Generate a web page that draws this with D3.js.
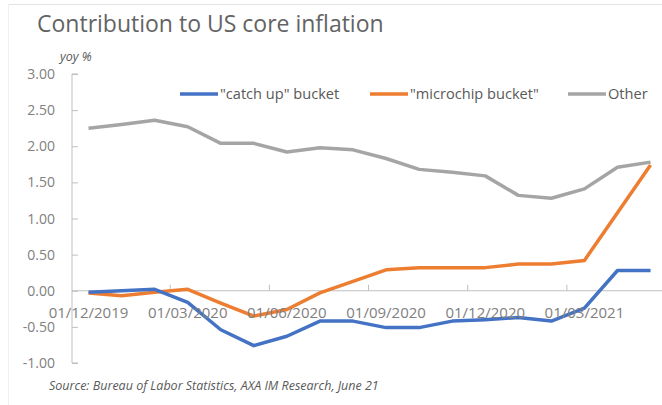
<!DOCTYPE html>
<html>
<head>
<meta charset="utf-8">
<script src="https://cdnjs.cloudflare.com/ajax/libs/d3/7.8.5/d3.min.js"></script>
<style>
  body { margin: 0; background: #fff; }
  svg { display: block; font-family: "Open Sans", "Liberation Sans", Arial, sans-serif; }
</style>
</head>
<body>
<div id="chart"></div>
<script>
// monthly, Dec 2019 - May 2021
var months = ["01/12/2019","01/01/2020","01/02/2020","01/03/2020","01/04/2020","01/05/2020",
  "01/06/2020","01/07/2020","01/08/2020","01/09/2020","01/10/2020","01/11/2020",
  "01/12/2020","01/01/2021","01/02/2021","01/03/2021","01/04/2021","01/05/2021"];
var catchUp   = [-0.02, 0.00, 0.02, -0.16, -0.54, -0.76, -0.63, -0.42, -0.42, -0.51, -0.51, -0.42, -0.40, -0.37, -0.42, -0.24, 0.28, 0.28];
var microchip = [-0.03, -0.07, -0.02, 0.02, -0.17, -0.35, -0.26, -0.03, 0.13, 0.29, 0.32, 0.32, 0.32, 0.37, 0.37, 0.42, 1.08, 1.74];
var other     = [2.25, 2.30, 2.36, 2.27, 2.04, 2.04, 1.92, 1.98, 1.95, 1.83, 1.68, 1.64, 1.59, 1.32, 1.28, 1.41, 1.71, 1.78];
var seriesNames = ["\"catch up\" bucket", "\"microchip bucket\"", "Other"];
var yTicks = [3, 2.5, 2, 1.5, 1, 0.5, 0, -0.5, -1];

var colors = ["#4472C4", "#ED7D31", "#A5A5A5"];
var series = [catchUp, microchip, other];

var width = 662, height = 405;
var svg = d3.select("#chart").append("svg")
    .attr("width", width)
    .attr("height", height);

// faint frame lines at the top / left of the cropped chart box
svg.append("line").attr("x1", 8).attr("x2", 662).attr("y1", 4.5).attr("y2", 4.5)
    .attr("stroke", "#e3e3e3");
svg.append("line").attr("x1", 8.5).attr("x2", 8.5).attr("y1", 4).attr("y2", 405)
    .attr("stroke", "#f0f0f0");

var left = 72, bandW = 33.06;
var x = d3.scaleBand().domain(months).range([left, left + bandW * months.length]);
var y = d3.scaleLinear().domain([-1, 3]).range([363, 74]);
var cx = d => x(d) + x.bandwidth() / 2;

// title
svg.append("text")
    .attr("x", 37).attr("y", 32)
    .style("font-size", "23px")
    .style("fill", "#636363")
    .text("Contribution to US core inflation");

svg.append("text")
    .attr("x", 60).attr("y", 61)
    .style("font-size", "12.5px")
    .style("font-style", "italic")
    .style("fill", "#595959")
    .text("yoy %");

// Y axis (ticks inside)
var yAxis = svg.append("g")
    .attr("transform", "translate(" + left + ",0)")
    .call(d3.axisRight(y).tickValues(yTicks).tickSize(6).tickFormat(""));
yAxis.select(".domain").attr("stroke", "#bfbfbf").attr("d", "M6," + y(3) + "H0V" + y(-1) + "H6");
yAxis.selectAll(".tick line").attr("stroke", "#bfbfbf");

svg.selectAll(".ylab").data(yTicks).enter().append("text")
    .attr("class", "ylab")
    .attr("x", 55).attr("y", d => y(d) + 5)
    .attr("text-anchor", "end")
    .style("font-size", "14px")
    .style("fill", "#808080")
    .text(d => d.toFixed(2));

// X axis at zero
var tickMonths = months.filter((m, i) => i % 3 === 0);
svg.append("line")
    .attr("x1", left).attr("x2", width)
    .attr("y1", y(0)).attr("y2", y(0))
    .attr("stroke", "#bfbfbf").attr("stroke-width", 1.2);
svg.selectAll(".xtick").data(tickMonths.slice(1)).enter().append("line")
    .attr("class", "xtick")
    .attr("x1", d => x(d) - 1).attr("x2", d => x(d) - 1)
    .attr("y1", y(0)).attr("y2", y(0) - 6)
    .attr("stroke", "#bfbfbf");

// lines
var line = d3.line()
    .x((d, i) => cx(months[i]))
    .y(d => y(d));

[2, 1, 0].forEach(function(k) {
    svg.append("path")
        .datum(series[k])
        .attr("fill", "none")
        .attr("stroke", colors[k])
        .attr("stroke-width", 3.5)
        .attr("stroke-linejoin", "round")
        .attr("d", line);
});

// x labels (drawn over the lines as in the original)
svg.selectAll(".xlab").data(tickMonths).enter().append("text")
    .attr("class", "xlab")
    .attr("x", d => cx(d)).attr("y", 318)
    .attr("text-anchor", "middle")
    .style("font-size", "15px")
    .style("fill", "#808080")
    .text(d => d);

// legend
var legX = [180, 370, 568];
var leg = svg.selectAll(".leg").data(seriesNames).enter().append("g")
    .attr("transform", (d, i) => "translate(" + legX[i] + ",94)");
leg.append("line")
    .attr("x1", 0).attr("x2", 38)
    .attr("stroke", (d, i) => colors[i])
    .attr("stroke-width", 3.5);
leg.append("text")
    .attr("x", 40).attr("y", 5)
    .style("font-size", "14.6px")
    .style("fill", "#595959")
    .text(d => d);

// source
svg.append("text")
    .attr("x", 49).attr("y", 390)
    .style("font-size", "12.5px")
    .style("font-style", "italic")
    .style("fill", "#595959")
    .text("Source: Bureau of Labor Statistics, AXA IM Research, June 21");
</script>
</body>
</html>
